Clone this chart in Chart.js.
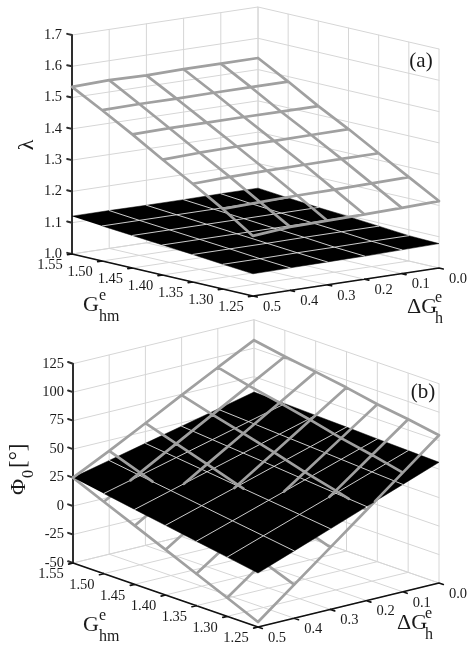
<!DOCTYPE html>
<html>
<head>
<meta charset="utf-8">
<title>Surface plots of lambda and phi0</title>
<script src="https://cdn.jsdelivr.net/npm/chart.js@4/dist/chart.umd.min.js"></script>
<style>
  html, body { margin: 0; padding: 0; background: #fff; }
  canvas { display: block; }
</style>
</head>
<body>
<canvas id="chart" width="474" height="651"></canvas>
<script>
(function () {
  'use strict';

  var gValues = [1.55, 1.50, 1.45, 1.40, 1.35, 1.30, 1.25];
  var dgValues = [0.5, 0.4, 0.3, 0.2, 0.1, 0.0];
  var gLabels = ['1.55', '1.50', '1.45', '1.40', '1.35', '1.30', '1.25'];
  var dgLabels = ['0.5', '0.4', '0.3', '0.2', '0.1', '0.0'];
  var lambdaTicks = [1.0, 1.1, 1.2, 1.3, 1.4, 1.5, 1.6, 1.7];
  var lambdaLabels = ['1.0', '1.1', '1.2', '1.3', '1.4', '1.5', '1.6', '1.7'];
  var phiTicks = [-50, -25, 0, 25, 50, 75, 100, 125];
  var phiLabels = ['-50', '-25', '0', '25', '50', '75', '100', '125'];

  // rows follow gValues, columns follow dgValues
  var lambdaGray = [
    [1.534, 1.538, 1.535, 1.537, 1.537, 1.537],
    [1.482, 1.484, 1.483, 1.484, 1.484, 1.484],
    [1.427, 1.429, 1.429, 1.429, 1.428, 1.428],
    [1.369, 1.373, 1.375, 1.375, 1.376, 1.377],
    [1.314, 1.318, 1.320, 1.321, 1.322, 1.322],
    [1.256, 1.260, 1.263, 1.264, 1.266, 1.268],
    [1.192, 1.203, 1.205, 1.207, 1.210, 1.214]
  ];
  var lambdaBlack = [
    [1.121, 1.121, 1.120, 1.120, 1.121, 1.121],
    [1.112, 1.112, 1.112, 1.112, 1.112, 1.112],
    [1.104, 1.104, 1.104, 1.104, 1.104, 1.104],
    [1.096, 1.096, 1.096, 1.096, 1.096, 1.097],
    [1.088, 1.088, 1.088, 1.089, 1.089, 1.089],
    [1.079, 1.079, 1.080, 1.080, 1.081, 1.081],
    [1.071, 1.072, 1.073, 1.074, 1.076, 1.078]
  ];
  var phiGray = [
    [25, 40.7, 57.3, 74.2, 90.8, 107],
    [13.2, 31, 48.7, 66.5, 84.2, 102],
    [1.5, 20.8, 40.1, 59.3, 78.6, 97.9],
    [-10.2, 10.5, 31.3, 52, 72.8, 93.5],
    [-22, 0, 22.1, 44.1, 66.2, 88.2],
    [-33.7, -10.1, 13.5, 37.2, 60.8, 84.4],
    [-45.6, -20.5, 4.5, 29.5, 54.6, 79.7]
  ];
  var phiBlack = [
    [25, 32.3, 39.6, 46.9, 54.2, 61.5],
    [20.4, 28.4, 36.5, 44.5, 52.6, 60.6],
    [15.8, 24.6, 33.4, 42.1, 50.9, 59.7],
    [11.2, 20.7, 30.2, 39.8, 49.3, 58.8],
    [6.6, 16.8, 27.1, 37.3, 47.6, 57.8],
    [2, 13, 24, 34.9, 45.9, 56.9],
    [-2.6, 9.1, 20.8, 32.6, 44.3, 56]
  ];

  var GAP = { x: NaN, y: NaN };
  var datasets = [];
  var texts = [];

  // orthographic-ish view: floor corners on the page, plus height of the z range
  function makeView(left, bottom, right, back, zMin, zMax, zPixels) {
    return function (g, d, z) {
      var u = (1.55 - g) / 0.3;
      var v = (0.5 - d) / 0.5;
      var x = left[0] * (1 - u) * (1 - v) + bottom[0] * u * (1 - v) + back[0] * (1 - u) * v + right[0] * u * v;
      var y = left[1] * (1 - u) * (1 - v) + bottom[1] * u * (1 - v) + back[1] * (1 - u) * v + right[1] * u * v;
      return { x: x, y: y - (z - zMin) / (zMax - zMin) * zPixels };
    };
  }

  function addLayer(points, color, width, fill) {
    datasets.push({
      data: points,
      showLine: true,
      pointRadius: 0,
      borderColor: color,
      borderWidth: width,
      backgroundColor: color,
      fill: fill ? 'shape' : false,
      tension: 0,
      borderCapStyle: 'round',
      borderJoinStyle: 'round'
    });
  }

  function addLine(list, a, b) {
    list.push(a, b, GAP);
  }

  function drawWalls(project, zTicks) {
    var zMin = zTicks[0];
    var zMax = zTicks[zTicks.length - 1];
    var gMin = gValues[gValues.length - 1];
    var gMax = gValues[0];
    var dMax = dgValues[0];
    var dMin = dgValues[dgValues.length - 1];
    var wall = [];
    zTicks.forEach(function (z) {
      wall.push(project(gMax, dMax, z), project(gMax, dMin, z), project(gMin, dMin, z), GAP);
    });
    dgValues.forEach(function (d) {
      addLine(wall, project(gMax, d, zMin), project(gMax, d, zMax));
      addLine(wall, project(gMax, d, zMin), project(gMin, d, zMin));
    });
    gValues.forEach(function (g) {
      addLine(wall, project(g, dMin, zMin), project(g, dMin, zMax));
      addLine(wall, project(g, dMin, zMin), project(g, dMax, zMin));
    });
    addLayer(wall, '#d6d6d6', 1, false);

    var zAxis = [];
    addLine(zAxis, project(gMax, dMax, zMin), project(gMax, dMax, zMax));
    zTicks.forEach(function (z) {
      addLine(zAxis, project(gMax, dMax, z), project(gMax + 0.008, dMax, z));
    });
    addLayer(zAxis, '#2e2e2e', 2, false);

    var floorAxes = [];
    addLine(floorAxes, project(gMax, dMax, zMin), project(gMin, dMax, zMin));
    addLine(floorAxes, project(gMin, dMax, zMin), project(gMin, dMin, zMin));
    gValues.forEach(function (g) {
      addLine(floorAxes, project(g, dMax, zMin), project(g, dMax + 0.012, zMin));
    });
    dgValues.forEach(function (d) {
      addLine(floorAxes, project(gMin, d, zMin), project(gMin - 0.007, d, zMin));
    });
    addLayer(floorAxes, '#111111', 1.7, false);
  }

  // split one gray mesh edge where it passes through the black surface
  function splitEdge(a, b, za, zb, ba, bb, project, under, over) {
    var da = za - ba;
    var db = zb - bb;
    var pa = project(a.g, a.d, za);
    var pb = project(b.g, b.d, zb);
    if (da >= 0 && db >= 0) {
      addLine(over, pa, pb);
    } else if (da <= 0 && db <= 0) {
      addLine(under, pa, pb);
    } else {
      var t = da / (da - db);
      var pc = project(a.g + (b.g - a.g) * t, a.d + (b.d - a.d) * t, za + (zb - za) * t);
      addLine(da > 0 ? over : under, pa, pc);
      addLine(da > 0 ? under : over, pc, pb);
    }
  }

  function drawSurfaces(project, gray, black) {
    var under = [];
    var over = [];
    var i, j;
    for (i = 0; i < gValues.length; i++) {
      for (j = 0; j < dgValues.length; j++) {
        var node = { g: gValues[i], d: dgValues[j] };
        if (j < dgValues.length - 1) {
          splitEdge(node, { g: gValues[i], d: dgValues[j + 1] }, gray[i][j], gray[i][j + 1], black[i][j], black[i][j + 1], project, under, over);
        }
        if (i < gValues.length - 1) {
          splitEdge(node, { g: gValues[i + 1], d: dgValues[j] }, gray[i][j], gray[i + 1][j], black[i][j], black[i + 1][j], project, under, over);
        }
      }
    }

    var last = gValues.length - 1;
    var lastD = dgValues.length - 1;
    var outline = [];
    for (j = 0; j <= lastD; j++) outline.push(project(gValues[0], dgValues[j], black[0][j]));
    for (i = 1; i <= last; i++) outline.push(project(gValues[i], dgValues[lastD], black[i][lastD]));
    for (j = lastD - 1; j >= 0; j--) outline.push(project(gValues[last], dgValues[j], black[last][j]));
    for (i = last - 1; i > 0; i--) outline.push(project(gValues[i], dgValues[0], black[i][0]));

    var mesh = [];
    for (i = 1; i < last; i++) {
      for (j = 0; j <= lastD; j++) mesh.push(project(gValues[i], dgValues[j], black[i][j]));
      mesh.push(GAP);
    }
    for (j = 1; j < lastD; j++) {
      for (i = 0; i <= last; i++) mesh.push(project(gValues[i], dgValues[j], black[i][j]));
      mesh.push(GAP);
    }

    addLayer(under, '#a0a0a0', 2.7, false);
    addLayer(outline, '#000000', 0.5, true);
    addLayer(mesh, '#e2e2e2', 0.9, false);
    addLayer(over, '#a0a0a0', 2.7, false);
  }

  function addTickLabels(project, zTicks, zLabels, zRight) {
    var zMin = zTicks[0];
    var gMax = gValues[0];
    var gMin = gValues[gValues.length - 1];
    var dMax = dgValues[0];
    zTicks.forEach(function (z, i) {
      var p = project(gMax, dMax, z);
      texts.push({ s: zLabels[i], x: zRight, y: p.y, size: 14.5, align: 'right' });
    });
    gValues.forEach(function (g, i) {
      var p = project(g, dMax, zMin);
      texts.push({ s: gLabels[i], x: p.x - 22, y: p.y + 11.5, size: 14.5, align: 'center' });
    });
    dgValues.forEach(function (d, i) {
      var p = project(gMin, d, zMin);
      texts.push({ s: dgLabels[i], x: p.x + 19, y: p.y + 11, size: 14.5, align: 'center' });
    });
  }

  function addAxisTitle(gx, gy, dx, dy) {
    texts.push({ s: 'G', x: gx, y: gy, size: 22, align: 'left', base: 'alphabetic' });
    texts.push({ s: 'e', x: gx + 16, y: gy - 11, size: 16, align: 'left', base: 'alphabetic' });
    texts.push({ s: 'hm', x: gx + 16, y: gy + 10, size: 16, align: 'left', base: 'alphabetic' });
    texts.push({ s: 'ΔG', x: dx, y: dy, size: 22, align: 'left', base: 'alphabetic' });
    texts.push({ s: 'e', x: dx + 28, y: dy - 11, size: 16, align: 'left', base: 'alphabetic' });
    texts.push({ s: 'h', x: dx + 28, y: dy + 10, size: 16, align: 'left', base: 'alphabetic' });
  }

  // panel (a)
  var projectA = makeView([72, 254], [253, 296], [439, 268], [258, 226], 1.0, 1.7, 219);
  drawWalls(projectA, lambdaTicks);
  drawSurfaces(projectA, lambdaGray, lambdaBlack);
  addTickLabels(projectA, lambdaTicks, lambdaLabels, 62);
  addAxisTitle(83, 311, 407, 313);
  texts.push({ s: '(a)', x: 421, y: 61, size: 21, align: 'center' });
  texts.push({ s: 'λ', x: 27, y: 145, size: 22, align: 'center', rotate: true });

  // panel (b)
  var projectB = makeView([73, 563], [258, 627], [439, 583], [254, 519], -50, 125, 199.3);
  drawWalls(projectB, phiTicks);
  drawSurfaces(projectB, phiGray, phiBlack);
  addTickLabels(projectB, phiTicks, phiLabels, 64);
  addAxisTitle(83, 631, 397, 629);
  texts.push({ s: '(b)', x: 423, y: 392, size: 21, align: 'center' });
  texts.push({ s: 'Φ', x: 25, y: 495, size: 22, align: 'left', base: 'alphabetic', rotate: true });
  texts.push({ s: '0', x: 33, y: 478, size: 16, align: 'left', base: 'alphabetic', rotate: true });
  texts.push({ s: '[°]', x: 25, y: 468, size: 23, align: 'left', base: 'alphabetic', rotate: true });

  var textPlugin = {
    id: 'panelText',
    afterDatasetsDraw: function (chart) {
      var ctx = chart.ctx;
      var xs = chart.scales.x;
      var ys = chart.scales.y;
      ctx.save();
      ctx.fillStyle = '#1a1a1a';
      texts.forEach(function (t) {
        ctx.save();
        ctx.font = t.size + 'px "Liberation Serif"';
        ctx.textAlign = t.align;
        ctx.textBaseline = t.base || 'middle';
        ctx.translate(xs.getPixelForValue(t.x), ys.getPixelForValue(t.y));
        if (t.rotate) ctx.rotate(-Math.PI / 2);
        ctx.fillText(t.s, 0, 0);
        ctx.restore();
      });
      ctx.restore();
    }
  };

  // dataset 0 is painted last, so hand out order from the paint sequence
  datasets.forEach(function (ds, i) { ds.order = datasets.length - i; });

  new Chart(document.getElementById('chart').getContext('2d'), {
    type: 'scatter',
    data: { datasets: datasets },
    options: {
      responsive: false,
      animation: false,
      layout: { padding: 0 },
      plugins: { legend: { display: false }, tooltip: { enabled: false } },
      events: [],
      scales: {
        x: { type: 'linear', min: 0, max: 474, display: false },
        y: { type: 'linear', min: 0, max: 651, reverse: true, display: false }
      }
    },
    plugins: [textPlugin]
  });
})();
</script>
</body>
</html>
